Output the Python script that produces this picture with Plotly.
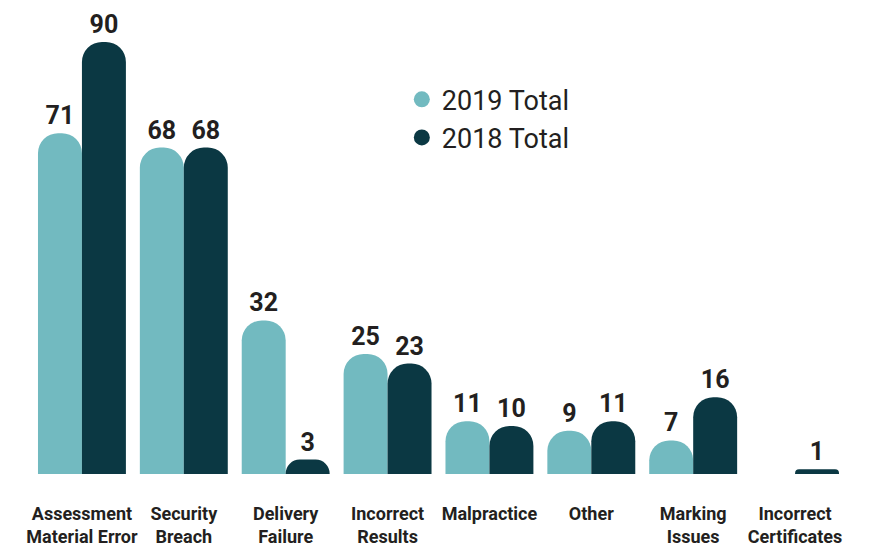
import plotly.graph_objects as go

categories = ["Assessment<br>Material Error", "Security<br>Breach", "Delivery<br>Failure",
              "Incorrect<br>Results", "Malpractice", "Other", "Marking<br>Issues",
              "Incorrect<br>Certificates"]
total_2019 = [71, 68, 32, 25, 11, 9, 7, None]
total_2018 = [90, 68, 3, 23, 10, 11, 16, 1]
series_names = ["2019 Total", "2018 Total"]

LIGHT = "#72BAC0"
DARK = "#0B3843"
TEXT = "#231F20"
FONT = "Roboto"

fig = go.Figure()
for name, vals, col in [(series_names[0], total_2019, LIGHT), (series_names[1], total_2018, DARK)]:
    fig.add_trace(go.Bar(
        x=categories, y=vals, name=name, marker=dict(color=col, cornerradius=20, line=dict(width=0)),
        text=[("" if v is None else str(v)) for v in vals], textposition="outside",
        textfont=dict(family=FONT, size=25, color=TEXT, weight="bold"),
        constraintext="none", cliponaxis=False, showlegend=False,
    ))
    fig.add_trace(go.Scatter(
        x=[None], y=[None], mode="markers", name=name,
        marker=dict(color=col, size=22, symbol="circle"), showlegend=True,
    ))

fig.update_layout(
    width=864, height=539,
    margin=dict(l=23, r=26, t=22, b=73, autoexpand=False),
    paper_bgcolor="white", plot_bgcolor="white",
    barmode="group", bargap=0.137, bargroupgap=0,
    showlegend=True,
    legend=dict(x=0.455, y=0.898, xanchor="left", yanchor="top",
                font=dict(family=FONT, size=27, color=TEXT),
                bgcolor="rgba(0,0,0,0)", itemsizing="trace"),
    xaxis=dict(showgrid=False, zeroline=False, showline=False, ticks="",
               tickfont=dict(family=FONT, size=18, color=TEXT, weight="bold"),
               ticklabelstandoff=27, automargin=False),
    yaxis=dict(visible=False, range=[0, 92.5], showgrid=False, zeroline=False, automargin=False),
)

fig.write_html("out.html")
